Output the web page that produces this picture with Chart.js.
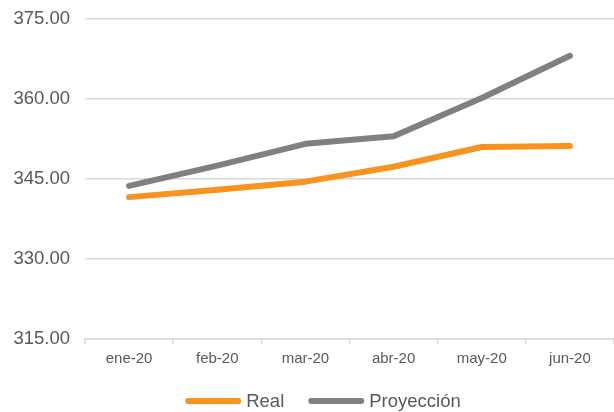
<!DOCTYPE html>
<html>
<head>
<meta charset="utf-8">
<script src="https://cdn.jsdelivr.net/npm/chart.js@4/dist/chart.umd.min.js"></script>
<style>
  html, body { margin: 0; padding: 0; background: #ffffff; }
  #wrap { width: 614px; height: 412px; position: relative; }
</style>
</head>
<body>
<div id="wrap"><canvas id="c"></canvas></div>
<script>
const categories = ['ene-20', 'feb-20', 'mar-20', 'abr-20', 'may-20', 'jun-20'];
const realValues = [341.6, 343.0, 344.5, 347.3, 351.0, 351.2];
const projectionValues = [343.7, 347.5, 351.6, 353.0, 360.2, 368.1];
const seriesNames = ['Real', 'Proyección'];
const seriesColors = ['#F7931E', '#808080'];

const textColor = '#595959';
const gridColor = '#D9D9D9';
const fontFamily = 'Arial, "Liberation Sans", sans-serif';

// Legend drawn under the plot: long rounded line samples followed by the series name
const bottomLegend = {
  id: 'bottomLegend',
  afterDraw(chart) {
    const ctx = chart.ctx;
    const sampleW = 56, sampleH = 6, gap = 5, itemGap = 24;
    const y = 401;
    ctx.save();
    ctx.font = '18.5px ' + fontFamily;
    const items = chart.data.datasets.map(ds => ({
      text: ds.label, color: ds.borderColor, w: ctx.measureText(ds.label).width
    }));
    let total = 0;
    items.forEach((it, i) => { total += sampleW + gap + it.w + (i ? itemGap : 0); });
    let x = 323 - total / 2;
    items.forEach(it => {
      ctx.strokeStyle = it.color;
      ctx.lineWidth = sampleH;
      ctx.lineCap = 'round';
      ctx.beginPath();
      ctx.moveTo(x + sampleH / 2, y);
      ctx.lineTo(x + sampleW - sampleH / 2, y);
      ctx.stroke();
      x += sampleW + gap;
      ctx.fillStyle = textColor;
      ctx.textBaseline = 'middle';
      ctx.textAlign = 'left';
      ctx.fillText(it.text, x, y + 1);
      x += it.w + itemGap;
    });
    ctx.restore();
  }
};

new Chart(document.getElementById('c'), {
  type: 'line',
  data: {
    labels: categories,
    datasets: [
      {
        label: seriesNames[0],
        data: realValues,
        borderColor: seriesColors[0],
        backgroundColor: seriesColors[0],
        borderWidth: 6,
        borderCapStyle: 'round',
        borderJoinStyle: 'round',
        pointRadius: 0,
        tension: 0
      },
      {
        label: seriesNames[1],
        data: projectionValues,
        borderColor: seriesColors[1],
        backgroundColor: seriesColors[1],
        borderWidth: 6,
        borderCapStyle: 'round',
        borderJoinStyle: 'round',
        pointRadius: 0,
        tension: 0
      }
    ]
  },
  options: {
    responsive: true,
    maintainAspectRatio: false,
    animation: false,
    layout: { padding: { left: 13, right: 0, top: 19, bottom: 38 } },
    plugins: {
      legend: { display: false },
      tooltip: { enabled: false }
    },
    scales: {
      x: {
        offset: true,
        grid: {
          offset: true,
          drawOnChartArea: false,
          drawTicks: true,
          tickLength: 5,
          color: gridColor,
          lineWidth: 1.5
        },
        border: { display: true, color: gridColor, width: 1.5 },
        ticks: {
          color: textColor,
          padding: 6,
          maxRotation: 0,
          font: { family: fontFamily, size: 15 }
        }
      },
      y: {
        min: 315,
        max: 375,
        afterFit: scale => {
          scale.width = 72;
          scale.paddingTop = 0;
          scale.paddingBottom = 0;
        },
        grid: {
          color: gridColor,
          lineWidth: 1.5,
          drawTicks: false
        },
        border: { display: false },
        ticks: {
          stepSize: 15,
          padding: 15,
          color: textColor,
          font: { family: fontFamily, size: 18.5 },
          callback: v => Number(v).toFixed(2)
        }
      }
    }
  },
  plugins: [bottomLegend]
});
</script>
</body>
</html>
